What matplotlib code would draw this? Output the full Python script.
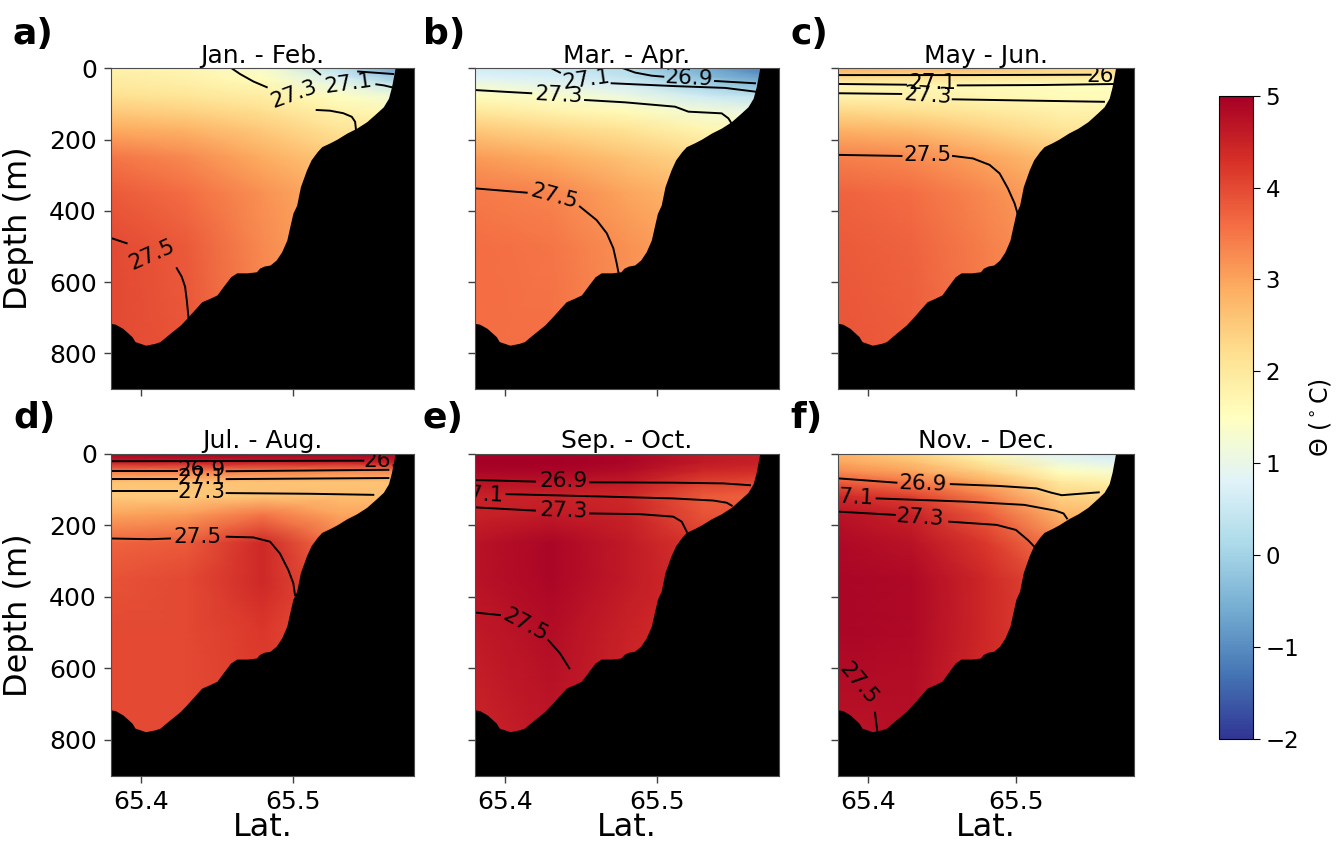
import numpy as np
import matplotlib
matplotlib.use("Agg")
import matplotlib.pyplot as plt

# ---- data ------------------------------------------------------------
TITLES = ["Jan. - Feb.", "Mar. - Apr.", "May - Jun.",
          "Jul. - Aug.", "Sep. - Oct.", "Nov. - Dec."]
LETTERS = ["a)", "b)", "c)", "d)", "e)", "f)"]

# temperature section nodes (rows = depth, cols = latitude)
LAT_NODES = [65.38, 65.43, 65.48, 65.53, 65.58]
DEPTH_NODES = [0, 25, 50, 80, 120, 170, 250, 350, 500, 900]

THETA_JF = [[1.8, 1.7, 1.3, 0.3, -1.0],
            [1.9, 1.8, 1.5, 0.7, -0.3],
            [2.0, 1.9, 1.7, 1.1, 0.4],
            [2.2, 2.1, 1.9, 1.5, 1.1],
            [2.5, 2.4, 2.2, 1.8, 1.6],
            [2.9, 2.8, 2.5, 2.1, 2.0],
            [3.5, 3.3, 2.9, 2.5, 2.5],
            [3.8, 3.6, 3.2, 2.8, 2.8],
            [4.0, 3.8, 3.3, 2.9, 2.9],
            [4.0, 3.9, 3.4, 3.0, 3.0]]
THETA_MA = [[0.6, 0.5, 0.2, -0.6, -1.3],
            [0.8, 0.7, 0.4, -0.3, -0.9],
            [1.2, 1.0, 0.7, 0.1, -0.4],
            [1.6, 1.4, 1.1, 0.6, 0.3],
            [2.0, 1.8, 1.6, 1.2, 1.0],
            [2.5, 2.3, 2.1, 1.7, 1.6],
            [3.1, 2.9, 2.6, 2.3, 2.3],
            [3.45, 3.35, 3.0, 2.7, 2.7],
            [3.6, 3.5, 3.2, 2.9, 2.9],
            [3.6, 3.6, 3.3, 3.0, 3.0]]
THETA_MJ = [[2.9, 2.8, 2.7, 2.4, 2.3],
            [2.3, 2.2, 2.1, 2.0, 1.9],
            [1.7, 1.7, 1.6, 1.5, 1.5],
            [1.8, 1.8, 1.7, 1.6, 1.6],
            [2.3, 2.2, 2.0, 1.8, 1.8],
            [2.8, 2.7, 2.4, 2.1, 2.1],
            [3.4, 3.3, 3.0, 2.6, 2.6],
            [3.7, 3.6, 3.3, 2.9, 2.9],
            [3.8, 3.7, 3.4, 3.1, 3.1],
            [3.9, 3.8, 3.5, 3.2, 3.2]]
THETA_JA = [[5.5, 5.5, 5.5, 5.5, 5.5],
            [4.5, 4.5, 4.5, 4.5, 4.5],
            [3.4, 3.4, 3.4, 3.3, 3.3],
            [2.6, 2.6, 2.6, 2.6, 2.6],
            [2.5, 2.5, 2.6, 2.7, 2.7],
            [3.0, 3.1, 3.5, 3.0, 3.0],
            [3.7, 3.8, 4.4, 3.5, 3.5],
            [3.9, 4.0, 4.4, 3.8, 3.8],
            [4.0, 4.0, 4.2, 3.9, 3.9],
            [4.0, 4.0, 4.1, 3.9, 3.9]]
THETA_SO = [[5.0, 5.0, 4.9, 4.6, 4.5],
            [5.0, 5.0, 4.9, 4.6, 4.5],
            [4.9, 4.9, 4.8, 4.4, 4.3],
            [4.7, 4.7, 4.6, 4.1, 4.0],
            [4.5, 4.5, 4.4, 3.8, 3.7],
            [4.5, 4.6, 4.5, 3.9, 3.8],
            [4.7, 4.9, 4.6, 4.2, 4.2],
            [4.7, 4.9, 4.6, 4.3, 4.3],
            [4.6, 4.8, 4.5, 4.3, 4.3],
            [4.4, 4.6, 4.4, 4.2, 4.2]]
THETA_ND = [[2.8, 2.4, 1.6, 0.8, 0.5],
            [3.0, 2.7, 2.0, 1.1, 0.8],
            [3.3, 3.0, 2.4, 1.5, 1.2],
            [3.8, 3.5, 2.9, 2.0, 1.8],
            [4.4, 4.1, 3.4, 2.4, 2.3],
            [4.7, 4.5, 3.8, 2.8, 2.7],
            [4.85, 4.7, 4.2, 3.4, 3.4],
            [4.9, 4.85, 4.4, 3.9, 3.9],
            [4.9, 4.85, 4.4, 4.0, 4.0],
            [4.6, 4.7, 4.3, 4.0, 4.0]]

# sea floor along the section
BATHY_LAT = [65.380, 65.383, 65.388, 65.394, 65.396, 65.403, 65.409, 65.4125,
             65.415, 65.419, 65.426, 65.430, 65.437, 65.440, 65.445, 65.450,
             65.454, 65.459, 65.463, 65.470, 65.476, 65.478, 65.481, 65.485,
             65.489, 65.4926, 65.496, 65.498, 65.500, 65.5025, 65.505, 65.509,
             65.512, 65.516, 65.519, 65.5245, 65.529, 65.5355, 65.542, 65.5486,
             65.555, 65.5596, 65.563, 65.565, 65.5667, 65.5673, 65.58]
BATHY_DEPTH = [716, 718, 730, 753, 767, 777, 772, 767, 758, 744, 720, 702,
               669, 655, 646, 636, 613, 585, 574, 574, 571, 561, 555, 552,
               538, 515, 482, 444, 407, 384, 332, 285, 257, 234, 220, 209,
               199, 182, 168, 150, 126, 108, 84, 52, 14, 0, 0]

# isopycnal pieces (lat, depth) and their labels (level, lat, depth, angle)
ISO_JF = [([65.3807, 65.3905], [477, 491]),
          ([65.4235, 65.4268, 65.429, 65.4301, 65.4315], [561, 585, 613, 650, 710]),
          ([65.4597, 65.4652, 65.474, 65.4828], [0, 16, 37, 53]),
          ([65.513, 65.518], [0, 17]),
          ([65.555, 65.560, 65.566], [45, 48, 54]),
          ([65.543, 65.566], [9, 16]),
          ([65.5157, 65.5245, 65.5332, 65.5388, 65.541, 65.5416], [117, 119, 126, 136, 150, 173])]
LAB_JF = [(27.5, 65.407, 524, 24), (27.3, 65.5005, 72, 20), (27.1, 65.5368, 43, 8)]

ISO_MA = [([65.38, 65.40, 65.417], [61, 66, 70]),
          ([65.4524, 65.4787, 65.5116, 65.5204, 65.5335, 65.5423, 65.5467, 65.549],
           [89, 95.5, 107.7, 121.7, 124.5, 126.4, 140.4, 156]),
          ([65.4304, 65.4359], [0, 12]),
          ([65.4699, 65.5116, 65.5445, 65.5653], [42, 50, 55, 66]),
          ([65.4776, 65.4853, 65.4962, 65.5039], [0, 12, 20.7, 23.5]),
          ([65.5379, 65.5642], [35.6, 42]),
          ([65.38, 65.414], [337, 349]),
          ([65.449, 65.46, 65.4667, 65.471, 65.4732, 65.4747], [388, 426, 463, 505, 547, 580])]
LAB_MA = [(27.3, 65.4353, 75, -3), (27.1, 65.4535, 31, 8), (26.9, 65.5208, 28, -3),
          (27.5, 65.432, 360, -15)]

ISO_MJ = [([65.38, 65.47, 65.5505], [19, 19, 18]),
          ([65.38, 65.4258], [44, 46]),
          ([65.4607, 65.5146, 65.5685], [48, 47, 44]),
          ([65.38, 65.4225], [70, 72]),
          ([65.4573, 65.5146, 65.5595], [87, 91, 94]),
          ([65.38, 65.4227], [243, 246]),
          ([65.4575, 65.471, 65.4822, 65.489, 65.4946, 65.4991, 65.5013],
           [246, 253, 271, 295, 337, 379, 410])]
LAB_MJ = [(26.9, 65.564, 21, 0), (27.1, 65.4438, 42, 0), (27.3, 65.4404, 78, -4),
          (27.5, 65.4404, 243, 0)]

ISO_JA = [([65.3795, 65.5464], [21, 19.5]),
          ([65.38, 65.4235], [49, 49]),
          ([65.4564, 65.5629], [49, 45]),
          ([65.38, 65.4235], [71, 71]),
          ([65.4564, 65.5629], [71, 68]),
          ([65.38, 65.4235], [105, 105]),
          ([65.4564, 65.5114, 65.553], [110, 112, 115]),
          ([65.38, 65.4059, 65.4191], [237, 239, 237]),
          ([65.4564, 65.474, 65.485, 65.4915, 65.497, 65.5003, 65.5014],
           [232, 234, 246, 279, 325, 362, 395])]
LAB_JA = [(26.7, 65.562, 19.5, 0), (26.9, 65.44, 45, 0), (27.1, 65.44, 69, 0),
          (27.3, 65.44, 106, 0), (27.5, 65.4371, 234, 0)]

ISO_SO = [([65.38, 65.4195], [73.5, 78]),
          ([65.4557, 65.5105, 65.5434, 65.5609], [80, 81, 83, 88]),
          ([65.4008, 65.4666, 65.5105, 65.5368, 65.5456, 65.5489], [113, 120, 125, 131, 137, 145]),
          ([65.38, 65.4195], [150, 159]),
          ([65.4557, 65.4886, 65.5105, 65.516, 65.5193], [167, 169, 176, 190, 218]),
          ([65.38, 65.3964], [444, 451]),
          ([65.4282, 65.4359, 65.4421], [521, 558, 600])]
LAB_SO = [(26.9, 65.4381, 77, 0), (27.1, 65.383, 116, -2), (27.3, 65.4381, 160, -2),
          (27.5, 65.413, 478, -28)]

ISO_ND = [([65.38, 65.4193], [69, 81]),
          ([65.456, 65.488, 65.514, 65.524, 65.531, 65.540, 65.556], [85, 90, 97, 109, 116, 113, 108]),
          ([65.4059, 65.4665, 65.5056, 65.5265, 65.5322, 65.5345], [125, 134, 143, 159, 167, 181]),
          ([65.38, 65.4182], [162, 171]),
          ([65.455, 65.487, 65.500, 65.508, 65.5125], [190, 199, 213, 241, 260]),
          ([65.4048, 65.4064], [724, 777])]
LAB_ND = [(26.9, 65.4373, 83, -2), (27.1, 65.3875, 122, -3), (27.3, 65.4351, 178, -4),
          (27.5, 65.3935, 642, -50)]

THETAS = [THETA_JF, THETA_MA, THETA_MJ, THETA_JA, THETA_SO, THETA_ND]
ISOS = [ISO_JF, ISO_MA, ISO_MJ, ISO_JA, ISO_SO, ISO_ND]
LABELS = [LAB_JF, LAB_MA, LAB_MJ, LAB_JA, LAB_SO, LAB_ND]

# ---- layout (pixels of the 1336x846 canvas) --------------------------
W, H = 1336, 846
COL_PX = [(110.7, 414.3), (475, 779), (838.3, 1134.3)]
ROW_PX = [(68.3, 389), (453.7, 775.7)]
LETTER_XY = [(13, 34), (423, 34), (790, 34), (13, 418), (423, 418), (790, 418)]

fig = plt.figure(figsize=(W / 100, H / 100), dpi=100)


def px_axes(x0, x1, y0, y1):
    return fig.add_axes([x0 / W, 1 - y1 / H, (x1 - x0) / W, (y1 - y0) / H])


lon2d, dep2d = np.meshgrid(LAT_NODES, DEPTH_NODES)

for i in range(6):
    r, c = divmod(i, 3)
    ax = px_axes(COL_PX[c][0], COL_PX[c][1], ROW_PX[r][0], ROW_PX[r][1])

    mesh = ax.pcolormesh(lon2d, dep2d, np.array(THETAS[i]), cmap="RdYlBu_r",
                         vmin=-2, vmax=5, shading="gouraud", zorder=1)
    for lats, deps in ISOS[i]:
        ax.plot(lats, deps, color="k", lw=1.4, zorder=2)
    for lev, la, de, rot in LABELS[i]:
        ax.text(la, de, f"{lev:.1f}", fontsize=15.5, rotation=rot,
                rotation_mode="anchor", ha="center", va="center",
                clip_on=True, zorder=3)
    ax.fill_between(BATHY_LAT, BATHY_DEPTH, 900, color="k", lw=0, zorder=4)

    ax.set_xlim(65.38, 65.58)
    ax.set_ylim(900, 0)
    ax.set_xticks([65.4, 65.5])
    ax.set_yticks([0, 200, 400, 600, 800])
    ax.tick_params(labelsize=18, length=5, width=1, pad=5, color="0.25")
    for sp in ax.spines.values():
        sp.set_color("0.3")
        sp.set_zorder(10)

    if r == 1:
        ax.set_xticklabels(["65.4", "65.5"])
        ax.set_xlabel("Lat.", fontsize=23)
        ax.xaxis.set_label_coords(0.5, -0.112)
    else:
        ax.set_xticklabels([])
    if c == 0:
        ax.set_ylabel("Depth (m)", fontsize=23)
        ax.yaxis.set_label_coords(-0.253, 0.5)
    else:
        ax.set_yticklabels([])

    ax.set_title(TITLES[i], fontsize=18, pad=4)
    lx, ly = LETTER_XY[i]
    fig.text(lx / W, 1 - ly / H, LETTERS[i], fontsize=26, fontweight="bold",
             ha="left", va="center")

cax = px_axes(1219, 1253, 95.7, 739)
cb = fig.colorbar(mesh, cax=cax, ticks=range(-2, 6))
cb.ax.tick_params(labelsize=16.5, length=5, pad=4)
cb.set_label(r"$\Theta$ ($^\circ$C)", fontsize=17)
cb.ax.yaxis.set_label_coords(2.6, 0.5)

fig.savefig("out.png", dpi=100)
